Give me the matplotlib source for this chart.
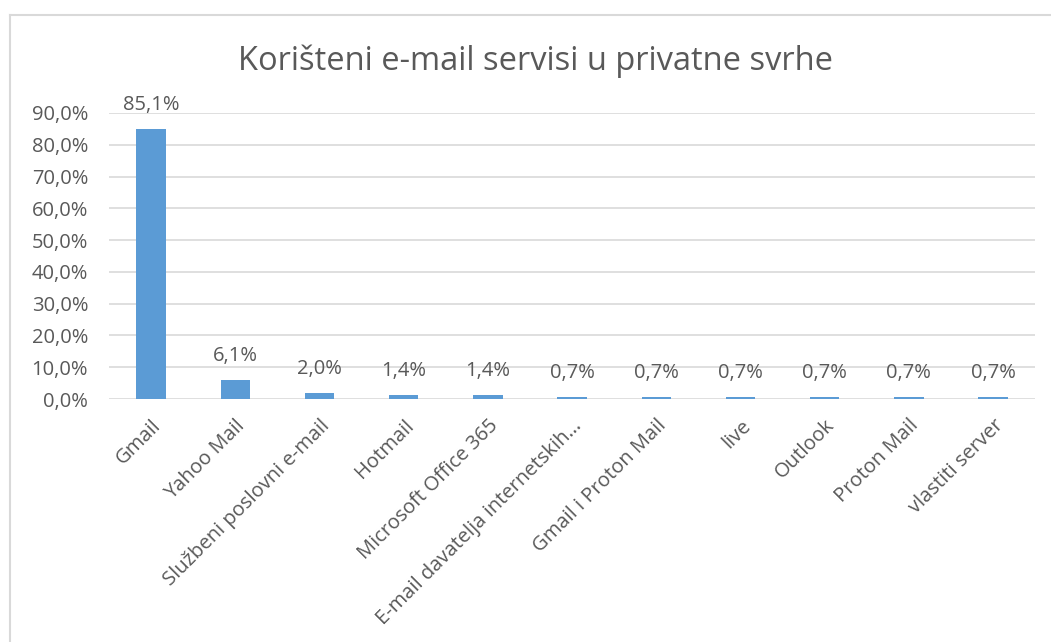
import matplotlib
matplotlib.use("Agg")
import matplotlib.pyplot as plt
from matplotlib.lines import Line2D

categories = ["Gmail", "Yahoo Mail", "Službeni poslovni e-mail", "Hotmail",
              "Microsoft Office 365", "E-mail davatelja internetskih…",
              "Gmail i Proton Mail", "live", "Outlook", "Proton Mail",
              "vlastiti server"]
values = [85.1, 6.1, 2.0, 1.4, 1.4, 0.7, 0.7, 0.7, 0.7, 0.7, 0.7]
yticks = [0, 10, 20, 30, 40, 50, 60, 70, 80, 90]

plt.rcParams['font.family'] = ['Open Sans', 'DejaVu Sans']
txt = '#595959'
bar_color = '#5B9BD5'
fs = 14.5

fig = plt.figure(figsize=(10.51, 6.42), dpi=100)
ax = fig.add_axes([0.1037, 0.3785, 0.8813, 0.4455])

x = list(range(len(categories)))
ax.bar(x, values, width=0.35, color=bar_color, zorder=3)
for xi, v in zip(x, values):
    ax.annotate(f"{v:.1f}%".replace('.', ','), (xi, v), xytext=(0, 10),
                textcoords='offset points', ha='center', va='bottom',
                fontsize=fs, color=txt)

ax.set_xlim(-0.5, len(categories) - 0.5)
ax.set_ylim(0, 90)
ax.set_yticks(yticks)
ax.set_yticklabels([f"{t:.1f}%".replace('.', ',') for t in yticks], fontsize=fs, color=txt)
ax.set_xticks(x)
ax.set_xticklabels(categories, rotation=45, ha='right', rotation_mode='anchor',
                   fontsize=fs, color=txt)
ax.tick_params(axis='both', length=0)
ax.tick_params(axis='y', pad=15)
ax.tick_params(axis='x', pad=12)
ax.grid(axis='y', color='#D9D9D9', linewidth=1.2, zorder=0)
for s in ax.spines.values():
    s.set_visible(False)

fig.text(536 / 1051, 1 - 61 / 642, "Korišteni e-mail servisi u privatne svrhe",
         ha='center', va='center', fontsize=23.5, color=txt)

# chart frame (only left and top edges are visible)
fx, fy = 9.5 / 1051, 1 - 15 / 642
fig.add_artist(Line2D([fx, fx], [0, fy], color='#D9D9D9', lw=1.5))
fig.add_artist(Line2D([fx, 1], [fy, fy], color='#D9D9D9', lw=1.5))

fig.savefig("out.png", dpi=100)
